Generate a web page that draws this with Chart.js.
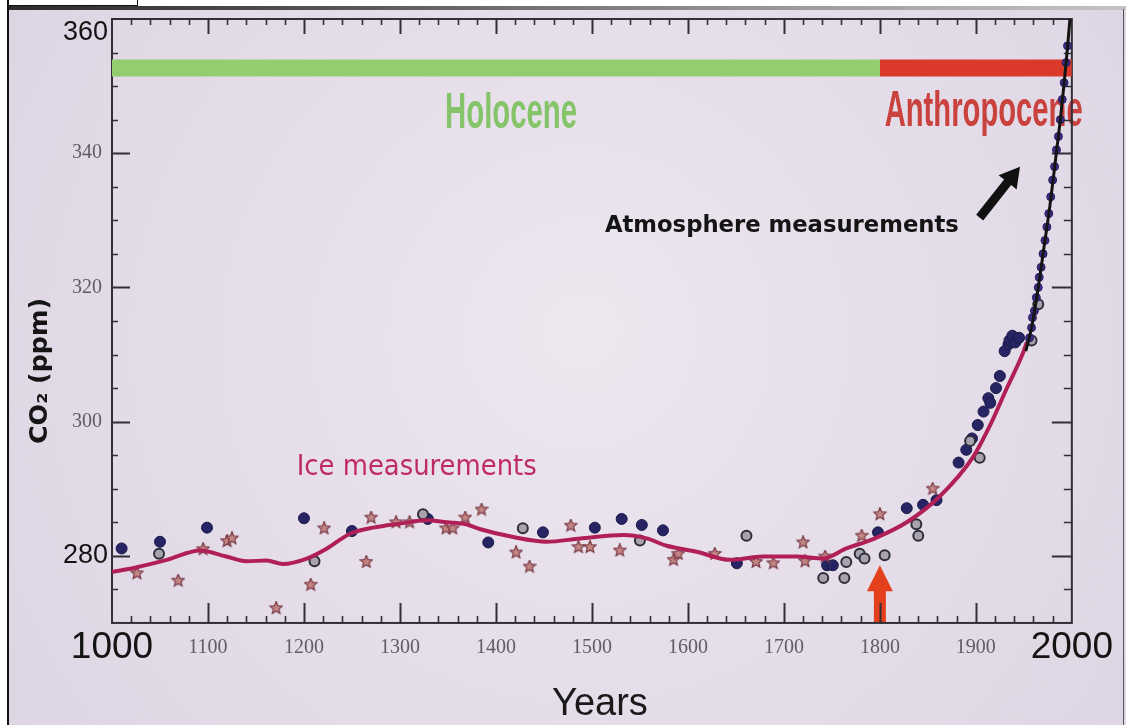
<!DOCTYPE html>
<html>
<head>
<meta charset="utf-8">
<script src="https://cdn.jsdelivr.net/npm/chart.js@4.4.1/dist/chart.umd.min.js"></script>
<style>
html,body{margin:0;padding:0;width:1126px;height:725px;overflow:hidden;background:#e6dfea;}
#wrap{position:absolute;left:0;top:0;width:1126px;height:725px;}
canvas{display:block;}
.strip{position:absolute;left:0;top:0;width:1126px;height:10px;background:#fff;}
.stripline{position:absolute;left:0;top:6px;width:1126px;height:4px;background:linear-gradient(to right,#2a2a2a,#555 30%,#9a9a9a 70%,#c4c4c4);}
.tab{position:absolute;left:8px;top:0;width:128px;height:5px;background:#fff;border:1px solid #111;border-top:none;}
.lwhite{position:absolute;left:0;top:0;width:7px;height:725px;background:#fff;}
.lline{position:absolute;left:7px;top:0;width:2px;height:725px;background:#111;}
.rline{position:absolute;left:1123px;top:9px;width:1px;height:716px;background:#555;}
</style>
</head>
<body>
<div id="wrap"><canvas id="c" width="1126" height="725"></canvas></div>
<div class="strip"></div>
<div class="stripline"></div>
<div class="tab"></div>
<div class="lwhite"></div>
<div class="lline"></div>
<div class="rline"></div>
<script>
// ---------------- data ----------------
const xTickValues = [1000, 1100, 1200, 1300, 1400, 1500, 1600, 1700, 1800, 1900, 2000];
const xTickLabels = ['1000', '1100', '1200', '1300', '1400', '1500', '1600', '1700', '1800', '1900', '2000'];
const yTickValues = [270, 280, 300, 320, 340, 360];
const yTickLabels = ['', '280', '300', '320', '340', '360'];

const epochNames = ['Holocene', 'Anthropocene'];
const epochStart = [1000, 1800];
const epochEnd = [1800, 2000];
const epochBarCO2 = 352.7;

// smoothed ice-core curve
const iceFitYears = [1000, 1026, 1057, 1092, 1119, 1140, 1161, 1178, 1203, 1224, 1248, 1272, 1300, 1328, 1349, 1369, 1383, 1418, 1453, 1488, 1533, 1557, 1578, 1609, 1644, 1678, 1713, 1741, 1765, 1793, 1828, 1862, 1897, 1915, 1932, 1949, 1953];
const iceFitCO2 = [277.6, 278.3, 279.4, 280.8, 279.9, 279.2, 279.3, 278.8, 279.6, 281.1, 283.3, 284.2, 284.8, 285.3, 285.0, 284.7, 284.0, 282.8, 282.1, 282.6, 283.1, 282.6, 281.5, 280.6, 279.4, 279.9, 279.9, 279.6, 281.1, 282.5, 285.0, 288.8, 294.7, 299.5, 304.9, 310.2, 311.8];

// atmosphere curve and measurements
const atmLineYears = [1952, 1958, 1965, 1971, 1977, 1983, 1988, 1992, 1995, 1998];
const atmLineCO2 = [310.5, 314.0, 320.0, 326.0, 332.0, 339.0, 345.0, 350.5, 355.0, 360.0];
const atmPointYears = [1956, 1958, 1959, 1961, 1963, 1965, 1966, 1968, 1970, 1972, 1974, 1976, 1978, 1980, 1982, 1984, 1986, 1988, 1990, 1992, 1994, 1995.5];
const atmPointCO2 = [312.5, 314.0, 315.5, 316.5, 318.5, 320.0, 321.5, 323.0, 325.0, 327.0, 329.0, 331.0, 333.5, 336.0, 338.0, 340.5, 342.5, 345.0, 348.0, 350.5, 353.5, 356.0];

// ice core samples
const iceFilledYears = [1010, 1050, 1099, 1200, 1250, 1329, 1392, 1449, 1503, 1531, 1552, 1574, 1651, 1745, 1751, 1798, 1828, 1845, 1859, 1882, 1890, 1896, 1902, 1908, 1913, 1915, 1921, 1925, 1930, 1934, 1935, 1938, 1941, 1945];
const iceFilledCO2 = [281.1, 282.1, 284.2, 285.6, 283.7, 285.5, 282.0, 283.5, 284.2, 285.5, 284.6, 283.8, 278.9, 278.6, 278.6, 283.5, 287.1, 287.6, 288.3, 293.9, 295.8, 297.5, 299.5, 301.5, 303.5, 302.8, 305.0, 306.8, 310.5, 311.5, 312.1, 312.8, 311.8, 312.5];
const iceOpenYears = [1049, 1211, 1324, 1428, 1550, 1661, 1741, 1763, 1765, 1779, 1784, 1805, 1838, 1840, 1894, 1904, 1958, 1965];
const iceOpenCO2 = [280.3, 279.2, 286.2, 284.1, 282.3, 283.0, 276.7, 276.7, 279.1, 280.3, 279.6, 280.1, 284.7, 283.0, 297.1, 294.6, 312.1, 317.5];
const iceStarYears = [1026, 1069, 1095, 1120, 1125, 1171, 1207, 1221, 1265, 1270, 1296, 1310, 1348, 1355, 1368, 1385, 1421, 1435, 1478, 1486, 1498, 1529, 1585, 1590, 1628, 1671, 1689, 1720, 1722, 1743, 1781, 1800, 1855];
const iceStarCO2 = [277.4, 276.3, 281.0, 282.2, 282.6, 272.2, 275.7, 284.1, 279.1, 285.7, 285.0, 285.0, 284.1, 284.1, 285.7, 286.9, 280.5, 278.4, 284.5, 281.3, 281.3, 280.8, 279.4, 280.3, 280.3, 279.1, 278.9, 282.0, 279.2, 279.9, 283.0, 286.2, 290.0];

// ---------------- helpers ----------------
const pts = (xs, ys) => xs.map((v, i) => ({x: v, y: ys[i]}));

function starImage(size, fill, stroke) {
  const c = document.createElement('canvas');
  c.width = size; c.height = size;
  const g = c.getContext('2d');
  g.beginPath();
  for (let i = 0; i < 10; i++) {
    const r = (i % 2) ? size * 0.21 : size * 0.47;
    const a = -Math.PI / 2 + i * Math.PI / 5;
    g.lineTo(size / 2 + r * Math.cos(a), size / 2 + r * Math.sin(a));
  }
  g.closePath();
  g.fillStyle = fill; g.fill();
  g.strokeStyle = stroke; g.lineWidth = 1.2; g.stroke();
  return c;
}
const starImg = starImage(14, '#c48684', '#7a3a46');

function fitText(ctx, text, font, color, x, yBase, targetW, rot) {
  ctx.save();
  ctx.font = font; ctx.fillStyle = color;
  ctx.textAlign = 'left'; ctx.textBaseline = 'alphabetic';
  const w = ctx.measureText(text).width;
  ctx.translate(x, yBase);
  if (rot) ctx.rotate(rot);
  ctx.scale(targetW / w, 1);
  ctx.fillText(text, 0, 0);
  ctx.restore();
}

function drawArrow(ctx, x0, y0, x1, y1, shaftW, headW, headL, color) {
  const ang = Math.atan2(y1 - y0, x1 - x0);
  const len = Math.hypot(x1 - x0, y1 - y0);
  ctx.save();
  ctx.translate(x0, y0); ctx.rotate(ang);
  ctx.fillStyle = color;
  ctx.beginPath();
  ctx.moveTo(0, -shaftW / 2);
  ctx.lineTo(len - headL, -shaftW / 2);
  ctx.lineTo(len - headL, -headW / 2);
  ctx.lineTo(len, 0);
  ctx.lineTo(len - headL, headW / 2);
  ctx.lineTo(len - headL, shaftW / 2);
  ctx.lineTo(0, shaftW / 2);
  ctx.closePath();
  ctx.fill();
  ctx.restore();
}

// annotation placements (data units)
const notes = {
  holocene: {x: 1347, y: 343.7, w: 132, color: '#86c46a'},
  anthropocene: {x: 1805, y: 344.1, w: 198, color: '#c9423e'},
  atm: {x: 1513.5, y: 328.2, w: 354, color: '#141414'},
  ice: {x: 1192.4, y: 292.0, w: 240, color: '#bf2b63'},
  blackArrow: {x0: 1904, y0: 330.4, x1: 1946, y1: 338.0},
  redArrow: {x: 1800, y0: 270, y1: 278.6}
};

const bigX = {family: '"Liberation Sans", Arial, sans-serif', size: 37, lineHeight: 0.65};
const smallX = {family: '"Liberation Serif", "Times New Roman", serif', size: 20, lineHeight: 1.2};
const isBigX = v => v === 1000 || v === 2000;
const isBigY = v => v === 280 || v === 360;

const decorPlugin = {
  id: 'decor',
  beforeDraw(chart) {
    const {ctx, width, height} = chart;
    ctx.save();
    const g = ctx.createRadialGradient(580, 330, 40, 580, 360, 720);
    g.addColorStop(0, '#ece6ef');
    g.addColorStop(1, '#ddd4e3');
    ctx.fillStyle = g;
    ctx.fillRect(0, 0, width, height);
    ctx.restore();
  },
  beforeDatasetsDraw(chart) {
    const {ctx, chartArea: a} = chart;
    const xs = chart.scales.x, ys = chart.scales.y;
    ctx.save();
    // texts inside the plot
    const condensed = 'bold 50px "Liberation Sans Narrow", "Liberation Sans", sans-serif';
    fitText(ctx, epochNames[0], condensed, notes.holocene.color, xs.getPixelForValue(notes.holocene.x), ys.getPixelForValue(notes.holocene.y), notes.holocene.w);
    fitText(ctx, epochNames[1], condensed, notes.anthropocene.color, xs.getPixelForValue(notes.anthropocene.x), ys.getPixelForValue(notes.anthropocene.y), notes.anthropocene.w);
    fitText(ctx, 'Atmosphere measurements', 'bold 23px "DejaVu Sans", sans-serif', notes.atm.color, xs.getPixelForValue(notes.atm.x), ys.getPixelForValue(notes.atm.y), notes.atm.w);
    fitText(ctx, 'Ice measurements', '29px "DejaVu Sans", sans-serif', notes.ice.color, xs.getPixelForValue(notes.ice.x), ys.getPixelForValue(notes.ice.y), notes.ice.w);

    // arrows
    const ba = notes.blackArrow;
    drawArrow(ctx, xs.getPixelForValue(ba.x0), ys.getPixelForValue(ba.y0), xs.getPixelForValue(ba.x1), ys.getPixelForValue(ba.y1), 9, 23, 20, '#111');
    const ra = notes.redArrow;
    drawArrow(ctx, xs.getPixelForValue(ra.x), ys.getPixelForValue(ra.y0), xs.getPixelForValue(ra.x), ys.getPixelForValue(ra.y1), 12, 26, 26, '#e5401e');

    // frame
    ctx.strokeStyle = '#303036';
    ctx.lineWidth = 2;
    ctx.strokeRect(a.left, a.top, a.right - a.left, a.bottom - a.top);
    // x ticks (inward, bottom and top)
    for (let v = 1020; v < 2000; v += 20) {
      const px = Math.round(xs.getPixelForValue(v)) + 0.5;
      const major = v % 100 === 0;
      ctx.lineWidth = major ? 2 : 1.6;
      ctx.beginPath();
      ctx.moveTo(px, a.bottom); ctx.lineTo(px, a.bottom - (major ? 20 : 7));
      ctx.moveTo(px, a.top); ctx.lineTo(px, a.top + (major ? 15 : 6));
      ctx.stroke();
    }
    // y ticks (inward, left and right)
    for (let v = 275; v < 360; v += 5) {
      const py = Math.round(ys.getPixelForValue(v)) + 0.5;
      const major = v % 20 === 0;
      ctx.lineWidth = major ? 2 : 1.6;
      ctx.beginPath();
      ctx.moveTo(a.left, py); ctx.lineTo(a.left + (major ? 18 : 6), py);
      ctx.moveTo(a.right, py); ctx.lineTo(a.right - (major ? 20 : 8), py);
      ctx.stroke();
    }
    // y tick labels (the top one sits just inside the frame, as in the original)
    ctx.textBaseline = 'middle';
    ctx.textAlign = 'right';
    yTickValues.forEach((v, i) => {
      const lab = yTickLabels[i];
      if (!lab) return;
      const big = isBigY(v);
      let py = ys.getPixelForValue(v);
      if (big) py = Math.max(py, a.top + 14);
      ctx.font = big ? '27px "Liberation Sans", Arial, sans-serif' : '20px "Liberation Serif", "Times New Roman", serif';
      ctx.fillStyle = big ? '#141414' : '#5e5e62';
      ctx.fillText(lab, a.left - (big ? 4 : 10), py);
    });
    ctx.restore();

    // axis titles
    fitText(ctx, 'CO\u2082 (ppm)', 'bold 25px "DejaVu Sans", sans-serif', '#151515', 47, 444, 146, -Math.PI / 2);
    ctx.save();
    ctx.font = '38px "Liberation Sans", Arial, sans-serif';
    ctx.fillStyle = '#1a1a1a';
    ctx.textAlign = 'center'; ctx.textBaseline = 'alphabetic';
    ctx.fillText('Years', (a.left + a.right) / 2 + 8, 715);
    ctx.restore();
  }
};

const chart = new Chart(document.getElementById('c'), {
  type: 'line',
  data: {
    datasets: [
      {label: 'Atmosphere curve', data: pts(atmLineYears, atmLineCO2), borderColor: '#141414', borderWidth: 3,
       pointRadius: 0, cubicInterpolationMode: 'monotone', fill: false, order: 0},
      {label: 'Atmosphere measurements', data: pts(atmPointYears, atmPointCO2), showLine: false,
       pointRadius: 4, pointBackgroundColor: '#3b2d85', pointBorderColor: '#2a1f60', pointBorderWidth: 1, order: 1},
      {label: 'Ice measurements (fit)', data: pts(iceFitYears, iceFitCO2), borderColor: '#b11f57', borderWidth: 4,
       pointRadius: 0, cubicInterpolationMode: 'monotone', fill: false, order: 2},
      {label: 'Ice stars', data: pts(iceStarYears, iceStarCO2), showLine: false, pointStyle: starImg, pointRadius: 7, order: 3},
      {label: 'Ice open', data: pts(iceOpenYears, iceOpenCO2), showLine: false, pointRadius: 5,
       pointBackgroundColor: '#a7a2ae', pointBorderColor: '#2e2e3a', pointBorderWidth: 2, order: 4},
      {label: 'Ice filled', data: pts(iceFilledYears, iceFilledCO2), showLine: false, pointRadius: 5.5,
       pointBackgroundColor: '#262463', pointBorderColor: '#1c1a4a', pointBorderWidth: 1, order: 5},
      {label: epochNames[0], data: [{x: epochStart[0], y: epochBarCO2}, {x: epochEnd[0], y: epochBarCO2}],
       borderColor: '#92cd6e', borderWidth: 17, borderCapStyle: 'butt', pointRadius: 0, fill: false, order: 6},
      {label: epochNames[1], data: [{x: epochStart[1], y: epochBarCO2}, {x: epochEnd[1], y: epochBarCO2}],
       borderColor: '#db3a2b', borderWidth: 17, borderCapStyle: 'butt', pointRadius: 0, fill: false, order: 6}
    ]
  },
  options: {
    responsive: false,
    animation: false,
    events: [],
    layout: {padding: {left: 112, right: 54, top: 19, bottom: 52}},
    plugins: {legend: {display: false}, tooltip: {enabled: false}},
    scales: {
      x: {
        type: 'linear', min: 1000, max: 2000,
        afterBuildTicks: s => { s.ticks = xTickValues.map(v => ({value: v})); },
        grid: {display: false, drawTicks: false},
        border: {display: false},
        ticks: {
          padding: 13,
          maxRotation: 0, autoSkip: false,
          callback: v => { const i = xTickValues.indexOf(v); return i >= 0 ? xTickLabels[i] : ''; },
          font: c => (c.tick && isBigX(c.tick.value)) ? bigX : smallX,
          color: c => (c.tick && isBigX(c.tick.value)) ? '#141414' : '#5e5e62'
        }
      },
      y: {
        type: 'linear', min: 270, max: 360,
        afterBuildTicks: s => { s.ticks = yTickValues.map(v => ({value: v})); },
        grid: {display: false, drawTicks: false},
        border: {display: false},
        ticks: {display: false}
      }
    }
  },
  plugins: [decorPlugin]
});
</script>
</body>
</html>
